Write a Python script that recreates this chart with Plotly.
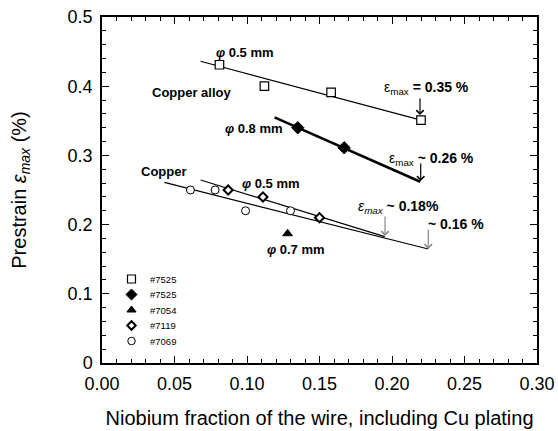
import plotly.graph_objects as go

# Measured prestrain vs. niobium fraction, per wire type
x_7525_alloy05 = [0.081, 0.112, 0.158, 0.220]
y_7525_alloy05 = [0.431, 0.400, 0.391, 0.351]

x_7525_alloy08 = [0.135, 0.167]
y_7525_alloy08 = [0.340, 0.311]

x_7054 = [0.128]
y_7054 = [0.187]

x_7119 = [0.087, 0.111, 0.150]
y_7119 = [0.250, 0.240, 0.210]

x_7069 = [0.061, 0.078, 0.099, 0.130]
y_7069 = [0.250, 0.250, 0.220, 0.220]

# Trend lines (end points)
fit_alloy05_x = [0.068, 0.220]
fit_alloy05_y = [0.436, 0.351]
fit_alloy08_x = [0.119, 0.2195]
fit_alloy08_y = [0.355, 0.262]
fit_7119_x = [0.068, 0.195]
fit_7119_y = [0.2645, 0.1826]
fit_7069_x = [0.043, 0.225]
fit_7069_y = [0.261, 0.1647]

series_names = ["#7525", "#7525", "#7054", "#7119", "#7069"]

FONT = "Liberation Sans, Arial, sans-serif"
BLACK = "#000000"

# marker styles: (symbol, size, fill, outline width)
styles = [
    ("square", 8.5, "white", 1.2),
    ("diamond", 9.5, BLACK, 1),
    ("triangle-up", 8.5, BLACK, 1),
    ("diamond", 7, "white", 2),
    ("circle", 8, "white", 1),
]
key_styles = [
    ("square", 8, "white", 1.2),
    ("diamond", 8.5, BLACK, 1),
    ("triangle-up", 8, BLACK, 1),
    ("diamond", 6.5, "white", 2),
    ("circle", 7.5, "white", 1),
]

fig = go.Figure()

for fx, fy, w in [(fit_alloy05_x, fit_alloy05_y, 1.2),
                  (fit_alloy08_x, fit_alloy08_y, 2.6),
                  (fit_7119_x, fit_7119_y, 1.2),
                  (fit_7069_x, fit_7069_y, 1.2)]:
    fig.add_trace(go.Scatter(x=fx, y=fy, mode="lines",
                             line=dict(color=BLACK, width=w),
                             showlegend=False, hoverinfo="skip"))

series = [(x_7525_alloy05, y_7525_alloy05), (x_7525_alloy08, y_7525_alloy08),
          (x_7054, y_7054), (x_7119, y_7119), (x_7069, y_7069)]
for (sx, sy), name, (sym, sz, fill, lw) in zip(series, series_names, styles):
    fig.add_trace(go.Scatter(x=sx, y=sy, mode="markers", name=name, showlegend=False,
                             marker=dict(symbol=sym, size=sz, color=fill,
                                         line=dict(color=BLACK, width=lw))))

# Key: drawn on an overlay axis measured in pixels from the plot's top-left corner
KEY_X, KEY_TEXT_X, KEY_Y0, KEY_STEP = 29.5, 46, 262, 15.5
for i, (name, (sym, sz, fill, lw)) in enumerate(zip(series_names, key_styles)):
    ky = KEY_Y0 + i * KEY_STEP
    fig.add_trace(go.Scatter(x=[KEY_X], y=[ky], xaxis="x2", yaxis="y2", mode="markers",
                             showlegend=False, hoverinfo="skip",
                             marker=dict(symbol=sym, size=sz, color=fill,
                                         line=dict(color=BLACK, width=lw))))
    fig.add_annotation(x=KEY_TEXT_X, y=ky, xref="x2", yref="y2", text=name,
                       showarrow=False, xanchor="left", yanchor="middle",
                       font=dict(family=FONT, size=9.5, color=BLACK))

# Text labels on the plot
labels = [
    ("<b><i>φ</i> 0.5 mm</b>", 0.0986, 0.4494),
    ("<b>Copper alloy</b>", 0.062, 0.3906),
    ("<b><i>φ</i> 0.8 mm</b>", 0.1045, 0.3396),
    ("<b>Copper</b>", 0.0428, 0.2764),
    ("<b><i>φ</i> 0.5 mm</b>", 0.1166, 0.2587),
    ("<b><i>φ</i> 0.7 mm</b>", 0.1338, 0.1647),
]
for txt, lx, ly in labels:
    fig.add_annotation(x=lx, y=ly, text=txt, showarrow=False,
                       font=dict(family=FONT, size=13, color=BLACK),
                       xanchor="center", yanchor="middle")

# Limit values with arrows
limits = [
    ("ε<sub>max</sub> <b>= 0.35 %</b>", 0.1929, 0.397),
    ("ε<sub>max</sub> <b>~ 0.26 %</b>", 0.1963, 0.295),
    ("<i>ε<sub>max</sub></i> <b>~ 0.18%</b>", 0.1752, 0.225),
    ("<b>~ 0.16 %</b>", 0.2234, 0.2009),
]
for txt, lx, ly in limits:
    fig.add_annotation(x=lx, y=ly, text=txt, showarrow=False,
                       font=dict(family=FONT, size=14, color=BLACK),
                       xanchor="left", yanchor="middle")

arrows = [
    (0.2193, 0.3584, -18, BLACK),
    (0.2198, 0.2630, -19, BLACK),
    (0.1952, 0.1835, -21, "#888888"),
    (0.2250, 0.1647, -21, "#888888"),
]
for axx, axy, off, col in arrows:
    fig.add_annotation(x=axx, y=axy, text="", showarrow=True, ax=0, ay=off,
                       arrowhead=4, arrowsize=1.2, arrowwidth=1.2, arrowcolor=col)

axis_common = dict(
    showline=True, linecolor=BLACK, linewidth=1.5, mirror="ticks",
    ticks="inside", ticklen=7, tickwidth=1.2, tickcolor=BLACK,
    showgrid=False, zeroline=False, automargin=False,
    tickfont=dict(family=FONT, size=18, color=BLACK),
)

fig.update_xaxes(range=[0, 0.30], tickvals=[0, 0.05, 0.10, 0.15, 0.20, 0.25, 0.30],
                 tickformat=".2f", ticklabelstandoff=4,
                 minor=dict(dtick=0.01, ticks="inside", ticklen=4, tickcolor=BLACK, tickwidth=1),
                 title=dict(text="Niobium fraction of the wire, including Cu plating",
                            font=dict(family=FONT, size=20, color=BLACK), standoff=18),
                 **axis_common)
fig.update_yaxes(range=[0, 0.5], tickvals=[0, 0.1, 0.2, 0.3, 0.4, 0.5],
                 ticktext=["0", "0.1", "0.2", "0.3", "0.4", "0.5"], ticklabelstandoff=4,
                 minor=dict(dtick=0.02, ticks="inside", ticklen=4, tickcolor=BLACK, tickwidth=1),
                 title=dict(text="Prestrain <i>ε</i><sub><i>max</i></sub> (%)",
                            font=dict(family=FONT, size=20, color=BLACK), standoff=36),
                 **axis_common)

fig.update_layout(
    width=558, height=431,
    margin=dict(l=102, r=21, t=17, b=68),
    paper_bgcolor="white", plot_bgcolor="white",
    font=dict(family=FONT, color=BLACK),
    showlegend=False,
    xaxis2=dict(overlaying="x", range=[0, 435], visible=False, fixedrange=True),
    yaxis2=dict(overlaying="y", range=[346, 0], visible=False, fixedrange=True),
)

fig.write_html("out.html")
